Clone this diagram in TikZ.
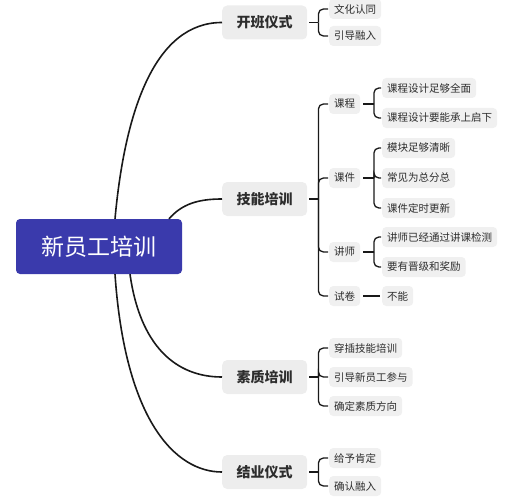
\documentclass[tikz,border=0pt]{standalone}
\usepackage{fontspec}
\setmainfont{Noto Sans CJK SC}
\usetikzlibrary{calc}
\definecolor{rootblue}{RGB}{58,58,172}
\definecolor{txt}{RGB}{45,45,45}
\definecolor{mainfill}{RGB}{237,237,237}
\definecolor{subfill}{RGB}{240,240,240}
\definecolor{linec}{RGB}{25,25,25}
\begin{document}
\begin{tikzpicture}[x=1pt,y=-1pt,
 rootbox/.style={fill=rootblue, text=white, rounded corners=4pt, minimum width=166pt, minimum height=55pt, font=\fontsize{23}{26}\selectfont, inner sep=0pt},
 mainbox/.style={fill=mainfill, text=txt, rounded corners=5pt, minimum width=85pt, minimum height=34pt, font=\fontsize{14}{16}\selectfont\bfseries, inner sep=0pt, anchor=west},
 subbox/.style={fill=subfill, text=txt, rounded corners=4pt, minimum height=20pt, inner xsep=5pt, inner ysep=0pt, font=\fontsize{10.5}{12}\selectfont, anchor=west},
 trunk/.style={draw=linec, line width=1.6pt},
 conn/.style={draw=linec, line width=1.3pt},
 hook/.style={conn, rounded corners=5pt, shorten >=1pt},
]
\useasboundingbox (0,0) rectangle (516,500);
% root and main branches
\node[rootbox] (root) at (99,246.5) {新员工培训};
\node[mainbox] (kb) at (222,22.5) {开班仪式};
\node[mainbox] (jn) at (222,199) {技能培训};
\node[mainbox] (sz) at (222,377) {素质培训};
\node[mainbox] (jy) at (222,472) {结业仪式};
\coordinate (r1) at ($(root.north)+(16,0)$);
\coordinate (r2) at ($(root.north)+(70,0)$);
\coordinate (r3) at ($(root.south)+(31,0)$);
\coordinate (r4) at ($(root.south)+(16,0)$);
\draw[trunk] (r1) .. controls (125,110) and (155,22.5) .. (kb.west);
\draw[trunk] (r2) .. controls (182,204) and (198,199) .. (jn.west);
\draw[trunk] (r3) .. controls (140,345) and (175,377) .. (sz.west);
\draw[trunk] (r4) .. controls (125,420) and (175,472) .. (jy.west);
% 开班仪式
\node[subbox] (kb1) at (329,9) {文化认同};
\node[subbox] (kb2) at (329,36) {引导融入};
\coordinate (kbs) at ($(kb.east)+(11,0)$);
\draw[conn, shorten <=2pt] (kb.east) -- (kbs);
\draw[hook] (kbs) |- (kb1.west);
\draw[hook] (kbs) |- (kb2.west);
% 技能培训
\node[subbox] (kc) at (329,104) {课程};
\node[subbox] (kj) at (329,178) {课件};
\node[subbox] (js) at (329,252) {讲师};
\node[subbox] (sj) at (329,296) {试卷};
\coordinate (jns) at ($(jn.east)+(11,0)$);
\draw[conn, shorten <=2pt] (jn.east) -- (jns);
\draw[hook] (jns) |- (kc.west);
\draw[hook] (jns) |- (kj.west);
\draw[hook] (jns) |- (js.west);
\draw[hook] (jns) |- (sj.west);
% 课程
\node[subbox] (kc1) at (382,88) {课程设计足够全面};
\node[subbox] (kc2) at (382,118) {课程设计要能承上启下};
\coordinate (kcs) at ($(kc.east)+(13.5,0)$);
\draw[conn, shorten <=3pt] (kc.east) -- (kcs);
\draw[hook] (kcs) |- (kc1.west);
\draw[hook] (kcs) |- (kc2.west);
% 课件
\node[subbox] (kj1) at (382,148) {模块足够清晰};
\node[subbox] (kj2) at (382,178) {常见为总分总};
\node[subbox] (kj3) at (382,208) {课件定时更新};
\coordinate (kjs) at ($(kj.east)+(13.5,0)$);
\draw[conn, shorten <=3pt] (kj.east) -- (kjs);
\draw[hook] (kjs) |- (kj1.west);
\draw[hook] (kjs) |- (kj2.west);
\draw[hook] (kjs) |- (kj3.west);
% 讲师
\node[subbox] (js1) at (382,237) {讲师已经通过讲课检测};
\node[subbox] (js2) at (382,267) {要有晋级和奖励};
\coordinate (jss) at ($(js.east)+(13.5,0)$);
\draw[conn, shorten <=3pt] (js.east) -- (jss);
\draw[hook] (jss) |- (js1.west);
\draw[hook] (jss) |- (js2.west);
% 试卷
\node[subbox] (sj1) at (382,296) {不能};
\draw[conn, shorten <=3pt, shorten >=2pt] (sj.east) -- (sj1.west);
% 素质培训
\node[subbox] (sz1) at (329,348) {穿插技能培训};
\node[subbox] (sz2) at (329,377) {引导新员工参与};
\node[subbox] (sz3) at (329,406) {确定素质方向};
\coordinate (szs) at ($(sz.east)+(11,0)$);
\draw[conn, shorten <=2pt] (sz.east) -- (szs);
\draw[hook] (szs) |- (sz1.west);
\draw[hook] (szs) |- (sz2.west);
\draw[hook] (szs) |- (sz3.west);
% 结业仪式
\node[subbox] (jy1) at (329,458) {给予肯定};
\node[subbox] (jy2) at (329,486) {确认融入};
\coordinate (jys) at ($(jy.east)+(11,0)$);
\draw[conn, shorten <=2pt] (jy.east) -- (jys);
\draw[hook] (jys) |- (jy1.west);
\draw[hook] (jys) |- (jy2.west);
\end{tikzpicture}
\end{document}
